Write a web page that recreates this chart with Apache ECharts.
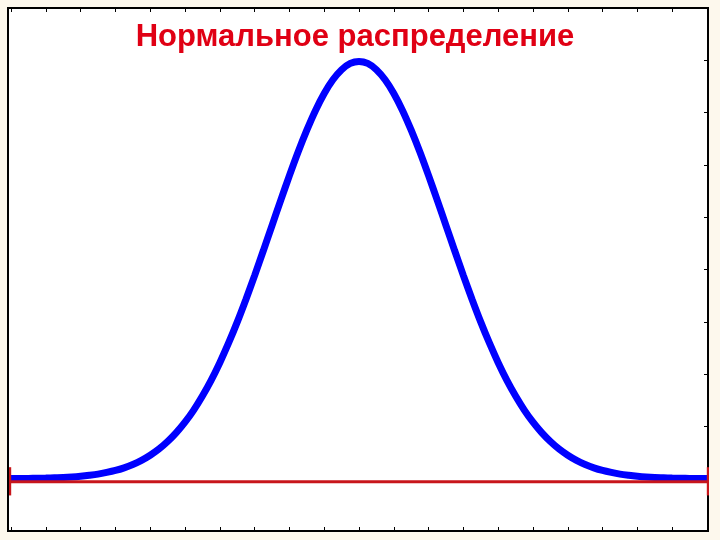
<!DOCTYPE html>
<html>
<head>
<meta charset="utf-8">
<script src="https://cdn.jsdelivr.net/npm/echarts@6/dist/echarts.min.js"></script>
<style>
html,body{margin:0;padding:0;background:#fdf8ed;}
#c{width:720px;height:540px;}
</style>
</head>
<body>
<div id="c"></div>
<script>
const titleText = 'Нормальное распределение';

// curve (x, density)
const xValues = [
  -4.0, -3.9, -3.8, -3.7, -3.6, -3.5, -3.4, -3.3, -3.2, -3.1,
  -3.0, -2.9, -2.8, -2.7, -2.6, -2.5, -2.4, -2.3, -2.2, -2.1,
  -2.0, -1.9, -1.8, -1.7, -1.6, -1.5, -1.4, -1.3, -1.2, -1.1,
  -1.0, -0.9, -0.8, -0.7, -0.6, -0.5, -0.4, -0.3, -0.2, -0.1,
   0.0,
   0.1,  0.2,  0.3,  0.4,  0.5,  0.6,  0.7,  0.8,  0.9,  1.0,
   1.1,  1.2,  1.3,  1.4,  1.5,  1.6,  1.7,  1.8,  1.9,  2.0,
   2.1,  2.2,  2.3,  2.4,  2.5,  2.6,  2.7,  2.8,  2.9,  3.0,
   3.1,  3.2,  3.3,  3.4,  3.5,  3.6,  3.7,  3.8,  3.9,  4.0];
const densityValues = [
  0.0001, 0.0002, 0.0003, 0.0004, 0.0006, 0.0009, 0.0012, 0.0017, 0.0024, 0.0033,
  0.0044, 0.0060, 0.0079, 0.0104, 0.0136, 0.0175, 0.0224, 0.0283, 0.0355, 0.0440,
  0.0540, 0.0656, 0.0790, 0.0940, 0.1109, 0.1295, 0.1497, 0.1714, 0.1942, 0.2179,
  0.2420, 0.2661, 0.2897, 0.3123, 0.3332, 0.3521, 0.3683, 0.3814, 0.3910, 0.3970,
  0.3989,
  0.3970, 0.3910, 0.3814, 0.3683, 0.3521, 0.3332, 0.3123, 0.2897, 0.2661, 0.2420,
  0.2179, 0.1942, 0.1714, 0.1497, 0.1295, 0.1109, 0.0940, 0.0790, 0.0656, 0.0540,
  0.0440, 0.0355, 0.0283, 0.0224, 0.0175, 0.0136, 0.0104, 0.0079, 0.0060, 0.0044,
  0.0033, 0.0024, 0.0017, 0.0012, 0.0009, 0.0006, 0.0004, 0.0003, 0.0002, 0.0001];

// red reference line with end bars
const refLineX = [-4.015, 4.015];
const refLineY = [-0.003, -0.003];
const refBarY = [-0.016, 0.011];

// axes
const xRange = [-4, 4];
const xTickStep = 0.4;
const yRange = [-0.05, 0.45];
const yTickStep = 0.05;

const curveData = xValues.map((x, i) => [x, densityValues[i]]);
const refData = refLineX.map((x, i) => [x, refLineY[i]]);
const leftBar = refBarY.map(y => [refLineX[0], y]);
const rightBar = refBarY.map(y => [refLineX[1], y]);

const tickStyle = {show: true, inside: true, length: 4, lineStyle: {color: '#000', width: 1}};
const hiddenLine = {show: false, onZero: false};

const chart = echarts.init(document.getElementById('c'), null, {renderer: 'canvas'});
chart.setOption({
  backgroundColor: '#fdf8ed',
  animation: false,
  title: {
    text: titleText,
    left: 355,
    top: 22,
    textAlign: 'center',
    padding: 0,
    textStyle: {fontFamily: 'Liberation Sans', fontSize: 31, fontWeight: 'bold', color: '#e00014'}
  },
  grid: [
    {left: 8, right: 12, top: 8, bottom: 9, show: true, backgroundColor: '#ffffff', borderColor: '#000000', borderWidth: 2},
    {left: 11, right: 13, top: 8, bottom: 9, show: false}
  ],
  xAxis: [
    {gridIndex: 0, type: 'value', min: 0, max: 1, show: false},
    {gridIndex: 1, type: 'value', position: 'bottom', min: xRange[0], max: xRange[1], interval: xTickStep,
     axisLine: hiddenLine, axisTick: tickStyle, axisLabel: {show: false}, splitLine: {show: false}},
    {gridIndex: 1, type: 'value', position: 'top', min: xRange[0], max: xRange[1], interval: xTickStep,
     axisLine: hiddenLine, axisTick: tickStyle, axisLabel: {show: false}, splitLine: {show: false}}
  ],
  yAxis: [
    {gridIndex: 0, type: 'value', position: 'right', min: yRange[0], max: yRange[1], interval: yTickStep,
     axisLine: hiddenLine, axisTick: tickStyle, axisLabel: {show: false}, splitLine: {show: false}},
    {gridIndex: 1, type: 'value', min: yRange[0], max: yRange[1], show: false,
     axisLine: hiddenLine, splitLine: {show: false}}
  ],
  series: [
    {type: 'line', xAxisIndex: 1, yAxisIndex: 1, data: curveData, smooth: 0.3, showSymbol: false,
     symbol: 'none', lineStyle: {color: '#0000ff', width: 7}, z: 3},
    {type: 'line', xAxisIndex: 1, yAxisIndex: 1, data: refData, showSymbol: false, symbol: 'none',
     clip: false, lineStyle: {color: '#c8161b', width: 3}, z: 4},
    {type: 'line', xAxisIndex: 1, yAxisIndex: 1, data: leftBar, showSymbol: false, symbol: 'none',
     clip: false, lineStyle: {color: '#c8161b', width: 3}, z: 4},
    {type: 'line', xAxisIndex: 1, yAxisIndex: 1, data: rightBar, showSymbol: false, symbol: 'none',
     clip: false, lineStyle: {color: '#c8161b', width: 3}, z: 4}
  ]
});
</script>
</body>
</html>
